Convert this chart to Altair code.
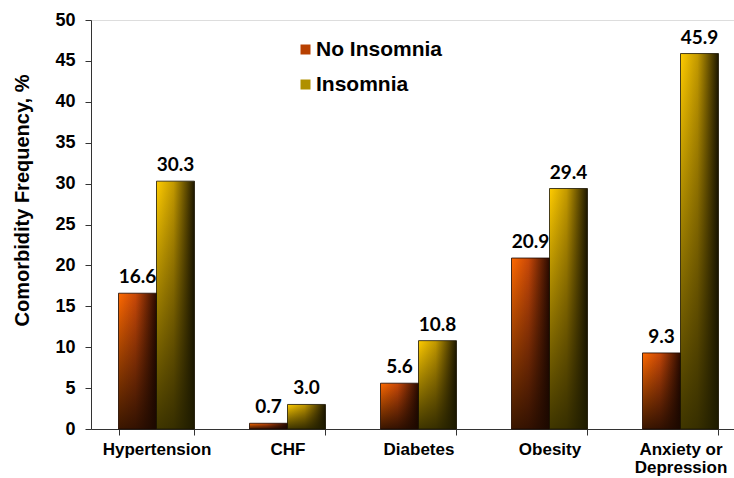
import altair as alt
import pandas as pd

# Comorbidity frequency (%) by insomnia status
categories = ["Hypertension", "CHF", "Diabetes", "Obesity", "Anxiety or Depression"]
no_insomnia = [16.6, 0.7, 5.6, 20.9, 9.3]
insomnia = [30.3, 3.0, 10.8, 29.4, 45.9]
groups = ["No Insomnia", "Insomnia"]

rows = []
for cat, a, b in zip(categories, no_insomnia, insomnia):
    rows.append({"category": cat, "group": groups[0], "value": a})
    rows.append({"category": cat, "group": groups[1], "value": b})
df = pd.DataFrame(rows)

FONT = "Liberation Sans, Arial"


def hgrad(c0, c1, c2):
    return alt.Gradient(
        gradient="linear", x1=0, y1=0, x2=1, y2=0,
        stops=[alt.GradientStop(offset=0, color=c0),
               alt.GradientStop(offset=0.45, color=c1),
               alt.GradientStop(offset=1, color=c2)],
    )


def vgrad(c_bottom):
    return alt.Gradient(
        gradient="linear", x1=0, y1=0, x2=0, y2=1,
        stops=[alt.GradientStop(offset=0, color="rgba(0,0,0,0)"),
               alt.GradientStop(offset=1, color=c_bottom)],
    )


orange_fill = hgrad("#FF6A00", "#C84808", "#2A0A00")
gold_fill = hgrad("#FFCC00", "#C49A00", "#1E1800")
orange_shade = vgrad("rgba(25,8,0,0.85)")
gold_shade = vgrad("rgba(30,28,0,0.85)")

x_enc = alt.X(
    "category:N", sort=categories, title=None,
    scale=alt.Scale(range=[0, 655], paddingInner=0.42, paddingOuter=0.21),
    axis=alt.Axis(
        labelFont=FONT, labelFontSize=17, labelFontWeight="bold", labelColor="black",
        labelAngle=0, labelPadding=6, labelLineHeight=18,
        labelExpr="datum.value == 'Anxiety or Depression' ? ['Anxiety or', 'Depression'] : datum.value",
        tickBand="extent", tickSize=6, tickColor="#333", domainColor="#333",
        grid=False,
    ),
)
y_enc = alt.Y(
    "value:Q", title="Comorbidity Frequency, %",
    scale=alt.Scale(domain=[0, 50], nice=False),
    axis=alt.Axis(
        values=list(range(0, 55, 5)), labelFont=FONT, labelFontSize=18,
        labelFontWeight="bold", labelColor="black", labelPadding=10,
        tickSize=6, tickColor="#333", domainColor="#333", grid=False,
        titleFont=FONT, titleFontSize=20, titleFontWeight="bold", titleColor="black",
        titlePadding=22, titleY=180,
    ),
)
xo_enc = alt.XOffset("group:N", scale=alt.Scale(domain=groups, paddingInner=0, paddingOuter=0))
color_enc = alt.Color(
    "group:N",
    scale=alt.Scale(domain=groups, range=["#B84000", "#B09000"]),
    legend=alt.Legend(
        title=None, orient="none", legendX=204, legendY=19,
        symbolType="square", symbolSize=100, symbolStrokeWidth=0,
        labelFont=FONT, labelFontSize=21, labelFontWeight="bold", labelColor="black",
        labelOffset=0, rowPadding=13, padding=0,
    ),
)

base = alt.Chart(df)

no_bars = base.transform_filter(alt.datum.group == groups[0]).mark_bar(
    fill=orange_fill).encode(x=x_enc, y=y_enc, xOffset=xo_enc, color=color_enc)
yes_bars = base.transform_filter(alt.datum.group == groups[1]).mark_bar(
    fill=gold_fill).encode(x=x_enc, y=y_enc, xOffset=xo_enc, color=color_enc)
no_shade = base.transform_filter(alt.datum.group == groups[0]).mark_bar(
    fill=orange_shade, stroke="#1a0800", strokeWidth=0.8).encode(x=x_enc, y=y_enc, xOffset=xo_enc)
yes_shade = base.transform_filter(alt.datum.group == groups[1]).mark_bar(
    fill=gold_shade, stroke="#1a1400", strokeWidth=0.8).encode(x=x_enc, y=y_enc, xOffset=xo_enc)

labels = base.mark_text(
    font="Lato", fontSize=19, fontWeight="bold", color="black",
    baseline="alphabetic", dy=-10,
).encode(x=x_enc, y=y_enc, xOffset=xo_enc, text=alt.Text("value:Q", format=".1f"))

chart = alt.layer(no_bars, yes_bars, no_shade, yes_shade, labels).properties(
    width=643, height=409,
    padding={"left": 91, "top": 20, "right": 0, "bottom": 49},
    autosize=alt.AutoSizeParams(type="none"),
).configure_view(stroke=None).configure(background="white")

chart.save("out.html", embed_options={"renderer": "svg", "actions": False})
